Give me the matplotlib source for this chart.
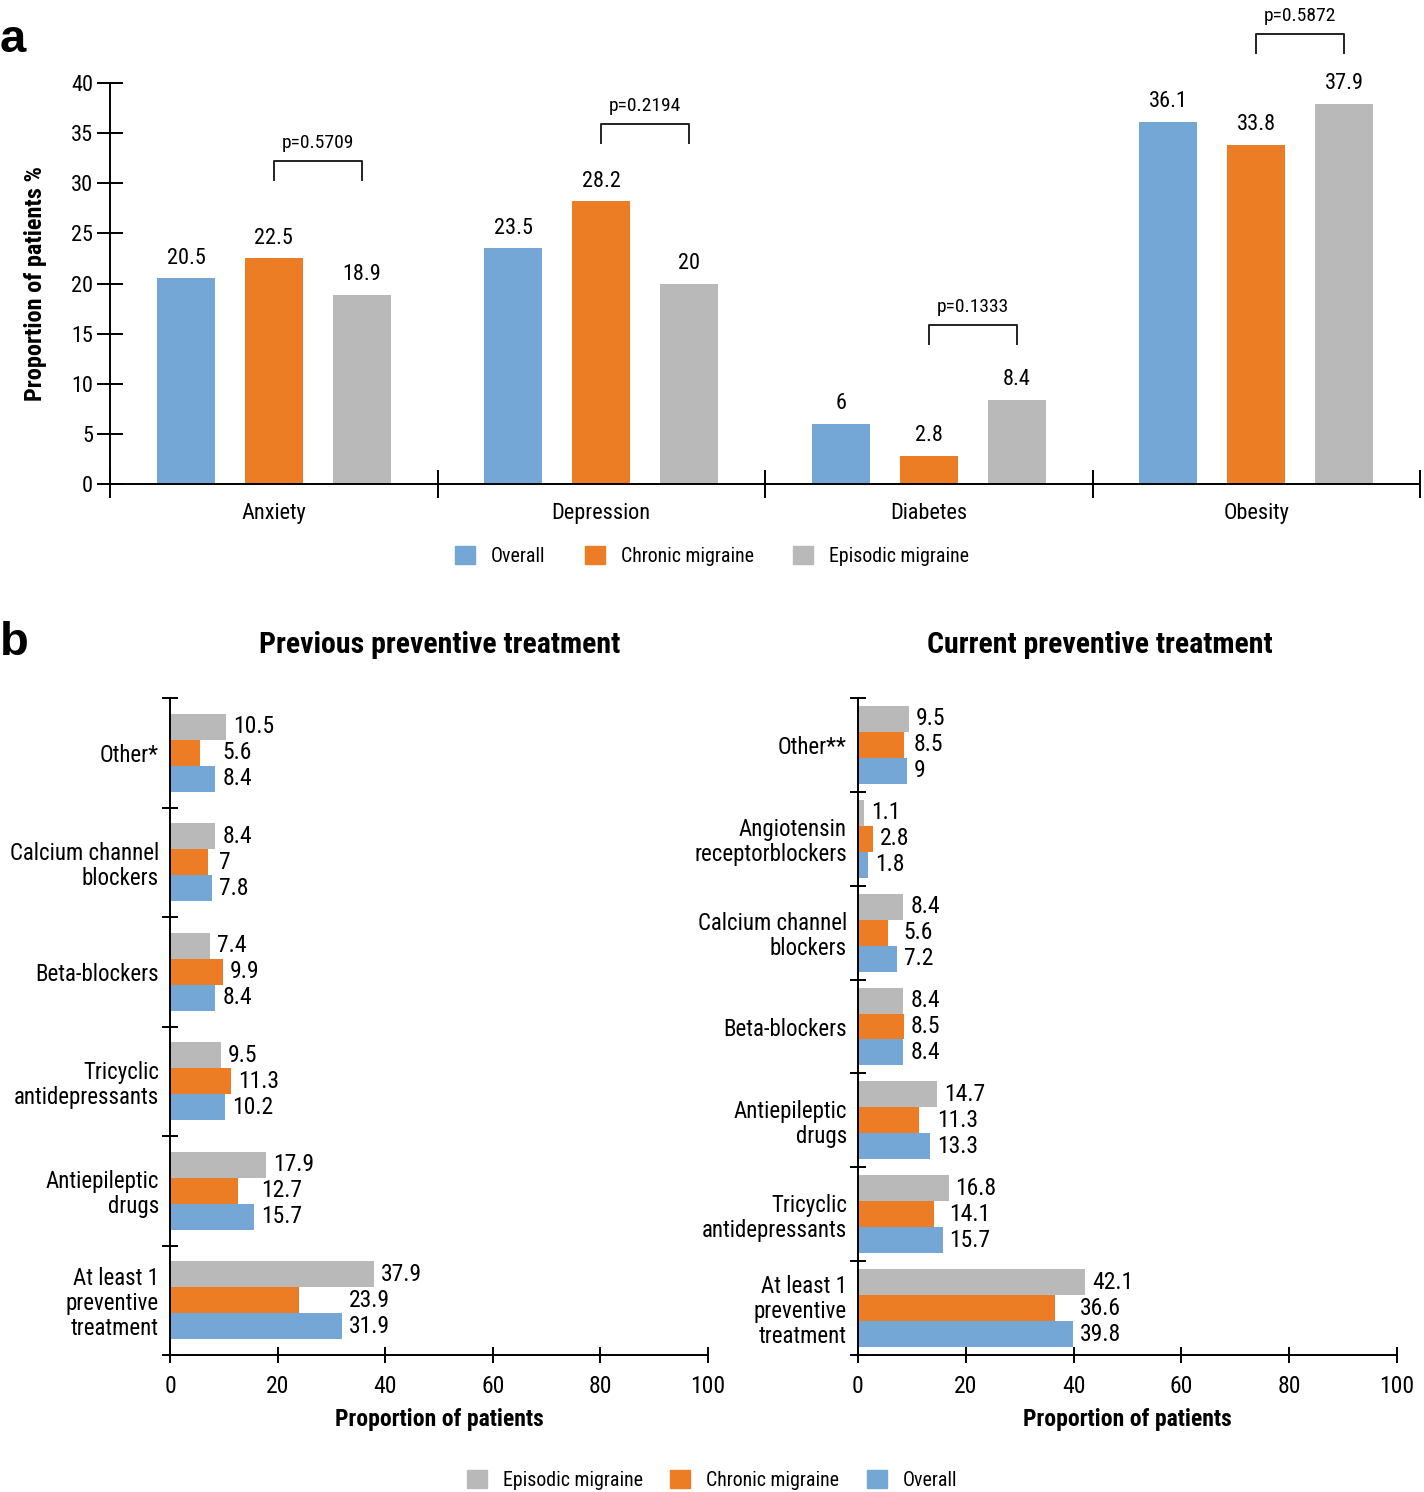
import numpy as np
import matplotlib
matplotlib.use("Agg")
import matplotlib.pyplot as plt
from matplotlib import font_manager
from matplotlib.patches import Patch

# look for a narrow sans; fall back to Liberation Sans at a smaller size
fonts = font_manager.fontManager.ttflist
names = {f.name for f in fonts}
FONT, STRETCH, K = "Liberation Sans", "normal", 0.87
for cand in ["Liberation Sans Narrow", "Arial Narrow", "Roboto Condensed", "Nimbus Sans Narrow"]:
    if cand in names:
        FONT, K = cand, 1.0
        break
else:
    narrow = [f.name for f in fonts if "Narrow" in f.name or "Condensed" in f.name]
    if narrow:
        FONT, K = narrow[0], 1.0
    elif any(f.name == "DejaVu Sans" and f.stretch == "condensed" for f in fonts):
        FONT, STRETCH, K = "DejaVu Sans", "condensed", 0.92

plt.rcParams["font.family"] = [FONT, "DejaVu Sans"]
plt.rcParams["font.stretch"] = STRETCH

FS = 16 * K       # general labels
FS_TICK = 17 * K  # panel b ticks / values
FS_LEG = 14.3 * K
FS_P = 14 * K
FS_TITLE = 21.5 * K

BLUE = "#74a6d6"
ORANGE = "#ec7d25"
GRAY = "#b9b9b9"

# ---- panel a data
cats_a = ["Anxiety", "Depression", "Diabetes", "Obesity"]
overall_a = [20.5, 23.5, 6, 36.1]
chronic_a = [22.5, 28.2, 2.8, 33.8]
episodic_a = [18.9, 20, 8.4, 37.9]
pvals_a = ["p=0.5709", "p=0.2194", "p=0.1333", "p=0.5872"]

# ---- panel b data
prev_cats = ["Other*", "Calcium channel\nblockers", "Beta-blockers",
             "Tricyclic\nantidepressants", "Antiepileptic\ndrugs",
             "At least 1\npreventive\ntreatment"]
prev_episodic = [10.5, 8.4, 7.4, 9.5, 17.9, 37.9]
prev_chronic = [5.6, 7, 9.9, 11.3, 12.7, 23.9]
prev_overall = [8.4, 7.8, 8.4, 10.2, 15.7, 31.9]

curr_cats = ["Other**", "Angiotensin\nreceptorblockers", "Calcium channel\nblockers",
             "Beta-blockers", "Antiepileptic\ndrugs", "Tricyclic\nantidepressants",
             "At least 1\npreventive\ntreatment"]
curr_episodic = [9.5, 1.1, 8.4, 8.4, 14.7, 16.8, 42.1]
curr_chronic = [8.5, 2.8, 5.6, 8.5, 11.3, 14.1, 36.6]
curr_overall = [9, 1.8, 7.2, 8.4, 13.3, 15.7, 39.8]

W, H = 1424, 1492
fig = plt.figure(figsize=(W / 100, H / 100), dpi=100)


def frac(l, t, r, b):
    return [l / W, 1 - b / H, (r - l) / W, (b - t) / H]


LW = 1.4

# ================= panel a
ax = fig.add_axes(frac(110, 83, 1420, 484))
x = np.arange(len(cats_a)) + 0.5
off = 0.268
bw = 0.177
for vals, col, dx in [(overall_a, BLUE, -off), (chronic_a, ORANGE, 0), (episodic_a, GRAY, off)]:
    bars = ax.bar(x + dx, vals, width=bw, color=col)
    for b, v in zip(bars, vals):
        ax.annotate(f"{v:g}", (b.get_x() + b.get_width() / 2, v), xytext=(0, 7),
                    textcoords="offset points", ha="center", va="bottom", fontsize=FS)

# p-value brackets (orange vs grey)
bracket_top = [32.2, 35.9, 15.9, 44.9]
for xi, top, p in zip(x, bracket_top, pvals_a):
    ax.plot([xi, xi, xi + off, xi + off], [top - 1.9, top, top, top - 1.9],
            color="#222222", lw=1.4, clip_on=False)
    ax.text(xi + off / 2, top + 0.9, p, ha="center", va="bottom", fontsize=FS_P)

ax.set_xlim(0, 4)
ax.set_ylim(0, 40)
for s in ["top", "right"]:
    ax.spines[s].set_visible(False)
for s in ["left", "bottom"]:
    ax.spines[s].set_linewidth(LW)
ax.set_yticks(range(0, 41, 5))
ax.tick_params(axis="y", direction="inout", length=18.5, width=LW, labelsize=FS, pad=3)
ax.set_xticks(x, cats_a)
ax.tick_params(axis="x", which="major", length=0, pad=14, labelsize=FS)
ax.set_xticks(range(5), minor=True)
ax.tick_params(axis="x", which="minor", direction="inout", length=20, width=LW)
ax.set_ylabel("Proportion of patients %", fontsize=17.5 * K, fontweight="bold")
ax.yaxis.set_label_coords(-0.048, 0.5)

fig.legend([Patch(color=BLUE), Patch(color=ORANGE), Patch(color=GRAY)],
           ["Overall", "Chronic migraine", "Episodic migraine"],
           loc="center", bbox_to_anchor=(712 / W, 1 - 556 / H), ncol=3, frameon=False,
           fontsize=FS_LEG, handlelength=1.0, handleheight=1.0, handletextpad=0.8,
           columnspacing=2.0)


# ================= panel b
def hbars(ax, cats, ep, ch, ov, h):
    n = len(cats)
    y = np.arange(n) + 0.5
    ax.barh(y - h, ep, height=h, color=GRAY)
    ax.barh(y, ch, height=h, color=ORANGE)
    ax.barh(y + h, ov, height=h, color=BLUE)
    for i in range(n):
        spots = [(ep[i], ep[i], y[i] - h), (ch[i], max(ch[i], ov[i]), y[i]), (ov[i], ov[i], y[i] + h)]
        for v, xpos, yy in spots:
            ax.annotate(f"{v:g}", (xpos, yy), xytext=(5, 0), textcoords="offset points",
                        ha="left", va="center", fontsize=FS_TICK)
    ax.set_ylim(n, 0)
    ax.set_xlim(0, 100)
    for s in ["top", "right"]:
        ax.spines[s].set_visible(False)
    for s in ["left", "bottom"]:
        ax.spines[s].set_linewidth(LW)
    ax.set_yticks(y, cats, linespacing=1.1)
    ax.tick_params(axis="y", which="major", length=0, pad=8, labelsize=16.5 * K)
    ax.set_yticks(range(n + 1), minor=True)
    ax.tick_params(axis="y", which="minor", direction="inout", length=11, width=LW)
    ax.set_xticks(range(0, 101, 20))
    ax.tick_params(axis="x", direction="inout", length=11, width=LW, pad=9, labelsize=FS_TICK)
    ax.set_xlabel("Proportion of patients", fontsize=FS_TICK, fontweight="bold", labelpad=7)


ax_l = fig.add_axes(frac(170, 698, 708, 1355))
hbars(ax_l, prev_cats, prev_episodic, prev_chronic, prev_overall, 0.237)
ax_r = fig.add_axes(frac(858, 698, 1397, 1355))
hbars(ax_r, curr_cats, curr_episodic, curr_chronic, curr_overall, 0.277)

fig.text(440 / W, 1 - 645 / H, "Previous preventive treatment", ha="center", va="center",
         fontsize=FS_TITLE, fontweight="bold")
fig.text(1100 / W, 1 - 645 / H, "Current preventive treatment", ha="center", va="center",
         fontsize=FS_TITLE, fontweight="bold")

fig.legend([Patch(color=GRAY), Patch(color=ORANGE), Patch(color=BLUE)],
           ["Episodic migraine", "Chronic migraine", "Overall"],
           loc="center", bbox_to_anchor=(712 / W, 1 - 1480 / H), ncol=3, frameon=False,
           fontsize=FS_LEG, handlelength=1.0, handleheight=1.0, handletextpad=0.8,
           columnspacing=1.4)

# panel letters
fig.text(0, 1 - 52 / H, "a", fontsize=34, fontweight="bold", va="baseline",
         family=["Liberation Sans", "DejaVu Sans"], stretch="normal")
fig.text(0, 1 - 655 / H, "b", fontsize=34, fontweight="bold", va="baseline",
         family=["Liberation Sans", "DejaVu Sans"], stretch="normal")

fig.savefig("out.png", dpi=100)
